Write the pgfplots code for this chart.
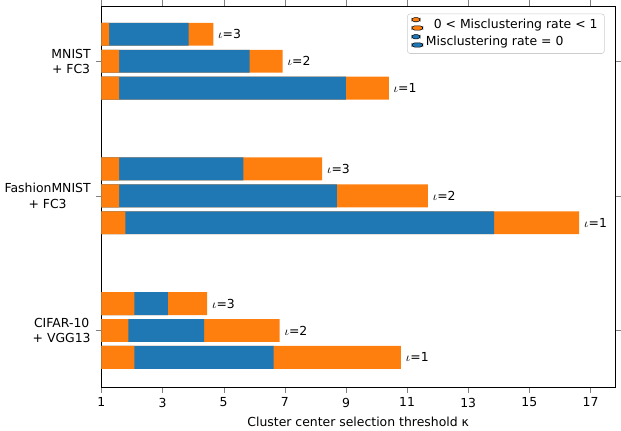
\documentclass[border=0pt]{standalone}
\usepackage{pgfplots}
\pgfplotsset{compat=1.18}
\usepackage{fontspec}
\setmainfont{DejaVu Sans}
\definecolor{mplorange}{HTML}{FF7F0E}
\definecolor{mplblue}{HTML}{1F77B4}
\begin{document}
\begin{tikzpicture}
\begin{axis}[
  scale only axis, width=372pt, height=276pt,
  xmin=1, xmax=17.8, ymin=-0.42, ymax=2.41,
  xtick={1,3,5,7,9,11,13,15,17},
  ytick={0,1,2},
  yticklabels={{CIFAR-10\\+ VGG13},{FashionMNIST\\+ FC3},{MNIST\\+ FC3}},
  yticklabel style={align=center,font=\small},
  xticklabel style={font=\small},
  /pgf/number format/assume math mode=true,
  xlabel={Cluster center selection threshold κ},
  xlabel style={font=\small},
  xbar, bar width=0.17, bar shift=0pt,
  legend style={at={(0.98,0.98)},anchor=north east,font=\small,draw=black!20,rounded corners=2pt},
  legend cell align=left,
  tick align=outside,
]
\addplot[fill=mplorange,draw=none,
  nodes near coords, point meta=explicit symbolic,
  every node near coord/.style={anchor=west,font=\small,black}]
 coordinates {
  (10.8,-0.2)[$\iota$=1] (6.83,0)[$\iota$=2] (4.46,0.2)[$\iota$=3]
  (16.63,0.8)[$\iota$=1] (11.68,1)[$\iota$=2] (8.22,1.2)[$\iota$=3]
  (10.4,1.8)[$\iota$=1] (6.93,2)[$\iota$=2] (4.66,2.2)[$\iota$=3]};
\addlegendentry{\ \ 0 < Misclustering rate < 1}
\addplot[fill=mplblue,draw=none] coordinates {
  (6.63,-0.2) (4.36,0) (3.17,0.2)
  (13.85,0.8) (8.7,1) (5.64,1.2)
  (9.0,1.8) (5.85,2) (3.85,2.2)};
\addlegendentry{Misclustering rate = 0}
\addplot[fill=mplorange,draw=none,forget plot] coordinates {
  (2.08,-0.2) (1.88,0) (2.08,0.2)
  (1.78,0.8) (1.58,1) (1.58,1.2)
  (1.58,1.8) (1.58,2) (1.25,2.2)};
\end{axis}
\end{tikzpicture}
\end{document}
